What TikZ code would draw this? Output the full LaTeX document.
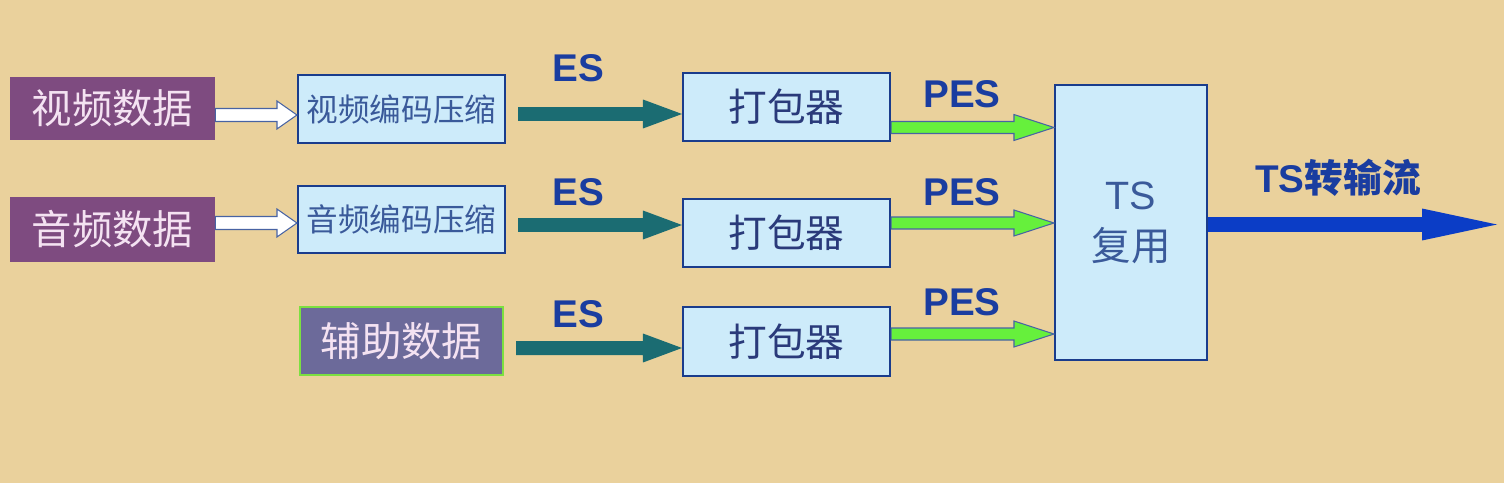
\documentclass[tikz,border=0pt]{standalone}
\usepackage{fontspec}
\setmainfont{Liberation Sans}
\newfontfamily\cjk{Noto Sans CJK SC}
\usetikzlibrary{calc}
\definecolor{bg}{HTML}{EAD19C}
\definecolor{purp}{HTML}{7E4B80}
\definecolor{purptxt}{HTML}{F4E2F2}
\definecolor{slate}{HTML}{6C6A9A}
\definecolor{auxgreen}{HTML}{7CE040}
\definecolor{lblue}{HTML}{CDEBFA}
\definecolor{navy}{HTML}{1A3C8C}
\definecolor{enctxt}{HTML}{3A5A9A}
\definecolor{pktxt}{HTML}{2A3A7A}
\definecolor{teal}{HTML}{1B6C72}
\definecolor{pesgreen}{HTML}{66F03C}
\definecolor{outblue}{HTML}{0B3DC6}
\definecolor{lbltxt}{HTML}{1A3DA0}
\tikzset{
  srcbox/.style={rectangle, fill=purp, text=purptxt, minimum width=4.1cm, inner sep=0pt, font=\cjk\fontsize{23}{27}\selectfont},
  encbox/.style={rectangle, fill=lblue, draw=navy, line width=1.2pt, text=enctxt, minimum width=4.14cm, minimum height=1.36cm, inner sep=0pt, font=\cjk\fontsize{18}{22}\selectfont},
  auxbox/.style={rectangle, fill=slate, draw=auxgreen, line width=1.4pt, text=purptxt, minimum width=4.06cm, minimum height=1.36cm, inner sep=0pt, font=\cjk\fontsize{23}{27}\selectfont},
  pkbox/.style={rectangle, fill=lblue, draw=navy, line width=1.2pt, text=pktxt, minimum width=4.14cm, minimum height=1.37cm, inner sep=0pt, font=\cjk\fontsize{22}{26}\selectfont},
  tsbox/.style={rectangle, fill=lblue, draw=navy, line width=1.2pt, text=enctxt, minimum width=3.04cm, minimum height=5.5cm, inner sep=0pt, align=center, font=\fontsize{22.5}{29}\selectfont},
  lbl/.style={anchor=base, text=lbltxt, inner sep=0pt, font=\bfseries\fontsize{22}{26}\selectfont},
  whitearrow/.style={fill=white, draw=navy!80, line width=0.6pt},
  esarrow/.style={fill=teal},
  pesarrow/.style={fill=pesgreen, draw=navy!80, line width=0.6pt},
  outarrow/.style={fill=outblue},
}
% #1 style, #2 from, #3 to, #4 y (px), #5 shaft half, #6 head half, #7 head length
\newcommand\blkarrow[7]{%
  \path[#1] let \p1=(#2), \p2=(#3), \p3=(0,#4) in
    (\x1,\y3+#5) -- (\x2-#7,\y3+#5) -- (\x2-#7,\y3+#6) -- (\x2,\y3)
    -- (\x2-#7,\y3-#6) -- (\x2-#7,\y3-#5) -- (\x1,\y3-#5) -- cycle;}
\begin{document}
\begin{tikzpicture}[x=0.02cm,y=-0.02cm]
  \fill[bg] (0,0) rectangle (1504,483);
  \useasboundingbox (0,0) rectangle (1504,483);

  % source boxes
  \node[srcbox, minimum height=1.26cm] (vd) at (112.5,108.5) {视频数据};
  \node[srcbox, minimum height=1.30cm] (ad) at (112.5,229.5) {音频数据};
  % encoders
  \node[encbox] (ve) at (401.5,109) {视频编码压缩};
  \node[encbox, minimum height=1.34cm] (ae) at (401.5,219.5) {音频编码压缩};
  \node[auxbox] (aux) at (401.5,341) {辅助数据};
  % packetizers
  \node[pkbox] (pk1) at (786.5,107) {打包器};
  \node[pkbox] (pk2) at (786.5,233) {打包器};
  \node[pkbox, minimum height=1.38cm] (pk3) at (786.5,341.5) {打包器};
  % TS mux
  \node[tsbox] (ts) at (1131,222.5) {TS\\{\cjk 复用}};
  \coordinate (outend) at (1497,224.5);

  % white arrows
  \blkarrow{whitearrow}{vd.east}{ve.west}{115}{0.13cm}{0.28cm}{0.4cm}
  \blkarrow{whitearrow}{ad.east}{ae.west}{223}{0.13cm}{0.28cm}{0.4cm}
  % ES arrows
  \blkarrow{esarrow}{$(ve.east)+(12,0)$}{pk1.west}{114}{0.14cm}{0.29cm}{0.78cm}
  \blkarrow{esarrow}{$(ae.east)+(12,0)$}{pk2.west}{225}{0.14cm}{0.29cm}{0.78cm}
  \blkarrow{esarrow}{$(aux.east)+(12,0)$}{pk3.west}{348}{0.14cm}{0.29cm}{0.78cm}
  % PES arrows
  \blkarrow{pesarrow}{pk1.east}{ts.west}{127.5}{0.12cm}{0.26cm}{0.8cm}
  \blkarrow{pesarrow}{pk2.east}{ts.west}{223}{0.12cm}{0.26cm}{0.8cm}
  \blkarrow{pesarrow}{pk3.east}{ts.west}{334}{0.12cm}{0.26cm}{0.8cm}
  % output arrow
  \blkarrow{outarrow}{ts.east}{outend}{224.5}{0.15cm}{0.32cm}{1.5cm}

  % labels
  \node[lbl] (es1) at (578,82) {ES};
  \node[lbl] (es2) at (578,205) {ES};
  \node[lbl] (es3) at (578,327) {ES};
  \node[lbl] (pes1) at (962,108) {PES};
  \node[lbl] (pes2) at (962,205) {PES};
  \node[lbl] (pes3) at (962,315) {PES};
  \node[lbl] (tsout) at (1338,192) {TS{\cjk\bfseries 转输流}};
\end{tikzpicture}
\end{document}
